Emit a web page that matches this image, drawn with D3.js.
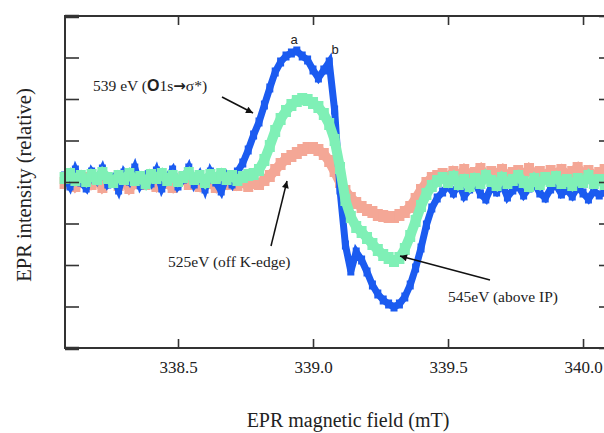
<!DOCTYPE html>
<html>
<head>
<meta charset="utf-8">
<script src="https://cdn.jsdelivr.net/npm/d3@7"></script>
<style>
  html, body { margin: 0; padding: 0; background: #fff; }
  svg { display: block; }
</style>
</head>
<body>
<svg id="chart" width="604" height="433"></svg>
<script>
// Magnetic field sampling (mT)
const field = [338.08,338.10,338.12,338.14,338.16,338.18,338.20,338.22,338.24,338.26,
  338.28,338.30,338.32,338.34,338.36,338.38,338.40,338.42,338.44,338.46,
  338.48,338.50,338.52,338.54,338.56,338.58,338.60,338.62,338.64,338.66,
  338.68,338.70,338.72,338.74,338.76,338.78,338.80,338.82,338.84,338.86,
  338.88,338.90,338.92,338.94,338.96,338.98,339.00,339.02,339.04,339.06,
  339.08,339.10,339.12,339.14,339.16,339.18,339.20,339.22,339.24,339.26,
  339.28,339.30,339.32,339.34,339.36,339.38,339.40,339.42,339.44,339.46,
  339.48,339.50,339.52,339.54,339.56,339.58,339.60,339.62,339.64,339.66,
  339.68,339.70,339.72,339.74,339.76,339.78,339.80,339.82,339.84,339.86,
  339.88,339.90,339.92,339.94,339.96,339.98,340.00,340.02,340.04,340.06,340.08];

// EPR intensity (relative units)
const epr539 = [6,-4,12,0,-6,10,2,13,-2,4,
  -8,9,1,14,-3,6,-1,11,-6,5,
  12,-4,3,14,-2,7,-7,10,0,-9,
  6,-2,10,19,32,47,60,77,94,110,
  120,126,129,131,126,122,112,104,112,120,
  72,-8,-63,-89,-70,-78,-90,-103,-112,-118,
  -122,-125,-122,-115,-103,-86,-66,-43,-26,-16,
  -10,-4,-11,-2,-14,-7,0,-12,-17,-5,
  -10,-2,-15,-8,-4,-13,-6,-1,-11,-16,
  -7,-3,-12,-8,-14,-5,-11,-17,-9,-13,-10];

const epr545 = [4,8,2,6,1,7,3,9,4,0,
  6,3,8,2,5,-1,7,4,8,2,
  6,1,5,9,3,6,0,7,4,8,
  3,6,2,5,7,8,12,22,36,51,
  63,71,77,81,83,82,79,75,68,58,
  42,14,-18,-35,-45,-50,-56,-62,-68,-73,
  -76,-79,-76,-67,-54,-39,-24,-12,-4,1,
  4,0,5,-2,2,-4,3,-1,6,1,
  -3,4,-1,2,6,0,-4,3,-2,4,
  1,5,-1,2,-3,3,0,6,-1,2,-2];

const epr525 = [-1,3,-4,1,4,-2,2,-5,0,3,
  -3,1,-6,-1,3,-2,1,-4,2,-1,
  -5,1,4,-2,0,-4,2,-1,-5,1,
  -2,3,-3,0,-4,-1,-2,2,6,12,
  18,23,26,29,32,34,34,32,28,21,
  11,0,-9,-16,-21,-25,-28,-30,-33,-34,
  -35,-35,-33,-30,-25,-17,-8,-1,4,6,
  8,4,10,6,12,7,9,13,6,10,
  8,12,5,9,11,7,13,8,10,6,
  11,8,12,7,10,14,8,11,6,9,12];

const xTicks = [338.5, 339.0, 339.5, 340.0];
const yTicks = [-166, -124.5, -83, -41.5, 0, 41.5, 83, 124.5, 166];

const svg = d3.select("#chart");
const L = 65, R = 613, T = 16, B = 348;
const x = d3.scaleLinear().domain([338.0815, 340.111]).range([L, R]);
const y = d3.scaleLinear().domain([-166, 166]).range([B, T]);

const serif = "'Liberation Serif', 'Times New Roman', serif";
const sans = "'Liberation Sans', Arial, sans-serif";

// data traces
const series = [
  {vals: epr525, color: "#f4a796", w: 10},
  {vals: epr539, color: "#1b5bf0", w: 7},
  {vals: epr545, color: "#7ff0b6", w: 10}
];
const plot = svg.append("g");
series.forEach(s => {
  const pts = field.map((f, i) => [f, s.vals[i]]);
  plot.append("path")
    .datum(pts)
    .attr("fill", "none")
    .attr("stroke", s.color)
    .attr("stroke-width", s.w)
    .attr("stroke-linejoin", "miter")
    .attr("d", d3.line().x(d => x(d[0])).y(d => y(d[1])));
  plot.selectAll(null).data(pts).enter().append("rect")
    .attr("x", d => x(d[0]) - s.w / 2)
    .attr("y", d => y(d[1]) - s.w / 2 - 1)
    .attr("width", s.w).attr("height", s.w + 2)
    .attr("fill", s.color);
});

// axes
const axisColor = "#333";
const gB = svg.append("g").attr("transform", `translate(0,${B})`)
  .call(d3.axisBottom(x).tickValues(xTicks).tickSizeInner(-9).tickSizeOuter(0)
    .tickPadding(13).tickFormat(d3.format(".1f")));
const gT = svg.append("g").attr("transform", `translate(0,${T})`)
  .call(d3.axisTop(x).tickValues(xTicks).tickSizeInner(-9).tickSizeOuter(0).tickFormat(""));
const gL = svg.append("g").attr("transform", `translate(${L},0)`)
  .call(d3.axisLeft(y).tickValues(yTicks).tickSizeInner(-14).tickSizeOuter(0).tickFormat(""));
const gR = svg.append("g").attr("transform", `translate(${R},0)`)
  .call(d3.axisRight(y).tickValues(yTicks).tickSizeInner(-14).tickSizeOuter(0).tickFormat(""));
[gB, gT, gL, gR].forEach(g => {
  g.select(".domain").remove();
  g.selectAll(".tick line").attr("stroke", axisColor).attr("stroke-width", 1.6);
});
gL.selectAll(".tick").filter(d => d === -166 || d === 166).select("line").attr("stroke-width", 3.5);
gB.selectAll(".tick text")
  .attr("font-family", serif).attr("font-size", 17).attr("fill", "#222");

svg.append("rect").attr("x", L).attr("y", T).attr("width", R - L).attr("height", B - T)
  .attr("fill", "none").attr("stroke", axisColor).attr("stroke-width", 2);

// axis titles
svg.append("text").attr("x", 348).attr("y", 427).attr("text-anchor", "middle")
  .attr("font-family", serif).attr("font-size", 20).attr("fill", "#222")
  .text("EPR magnetic field (mT)");
svg.append("text").attr("transform", "translate(31,185) rotate(-90)").attr("text-anchor", "middle")
  .attr("font-family", serif).attr("font-size", 20.5).attr("fill", "#222")
  .text("EPR intensity (relative)");

// arrowhead marker
svg.append("defs").append("marker").attr("id", "ah")
  .attr("viewBox", "0 0 10 10").attr("refX", 10).attr("refY", 5)
  .attr("markerWidth", 11).attr("markerHeight", 7).attr("markerUnits", "userSpaceOnUse")
  .attr("orient", "auto")
  .append("path").attr("d", "M0,0 L10,5 L0,10 Z").attr("fill", "#111");

const ann = svg.append("g");
function arrow(x1, y1, x2, y2) {
  ann.append("line").attr("x1", x1).attr("y1", y1).attr("x2", x2).attr("y2", y2)
    .attr("stroke", "#111").attr("stroke-width", 1.5).attr("marker-end", "url(#ah)");
}
arrow(222, 97, 253, 113);
arrow(271, 246, 287, 181);
arrow(490, 280, 400, 256);

const t1 = ann.append("text").attr("x", 93).attr("y", 91)
  .attr("font-family", serif).attr("font-size", 15.5).attr("fill", "#222");
t1.append("tspan").text("539 eV (");
t1.append("tspan").attr("font-family", sans).attr("font-weight", "bold").attr("font-size", 16).text("O");
t1.append("tspan").text("1s");
t1.append("tspan").attr("font-family", "'DejaVu Sans', sans-serif").attr("font-weight", "bold")
  .attr("font-size", 15).text("→");
t1.append("tspan").text("σ*)");

ann.append("text").attr("x", 168).attr("y", 267)
  .attr("font-family", serif).attr("font-size", 15.5).attr("fill", "#222")
  .text("525eV (off K-edge)");
ann.append("text").attr("x", 448).attr("y", 302)
  .attr("font-family", serif).attr("font-size", 15.5).attr("fill", "#222")
  .text("545eV (above IP)");
ann.append("text").attr("x", 294).attr("y", 44).attr("text-anchor", "middle")
  .attr("font-family", sans).attr("font-size", 13).attr("fill", "#222").text("a");
ann.append("text").attr("x", 335).attr("y", 54).attr("text-anchor", "middle")
  .attr("font-family", sans).attr("font-size", 13).attr("fill", "#222").text("b");
</script>
</body>
</html>
